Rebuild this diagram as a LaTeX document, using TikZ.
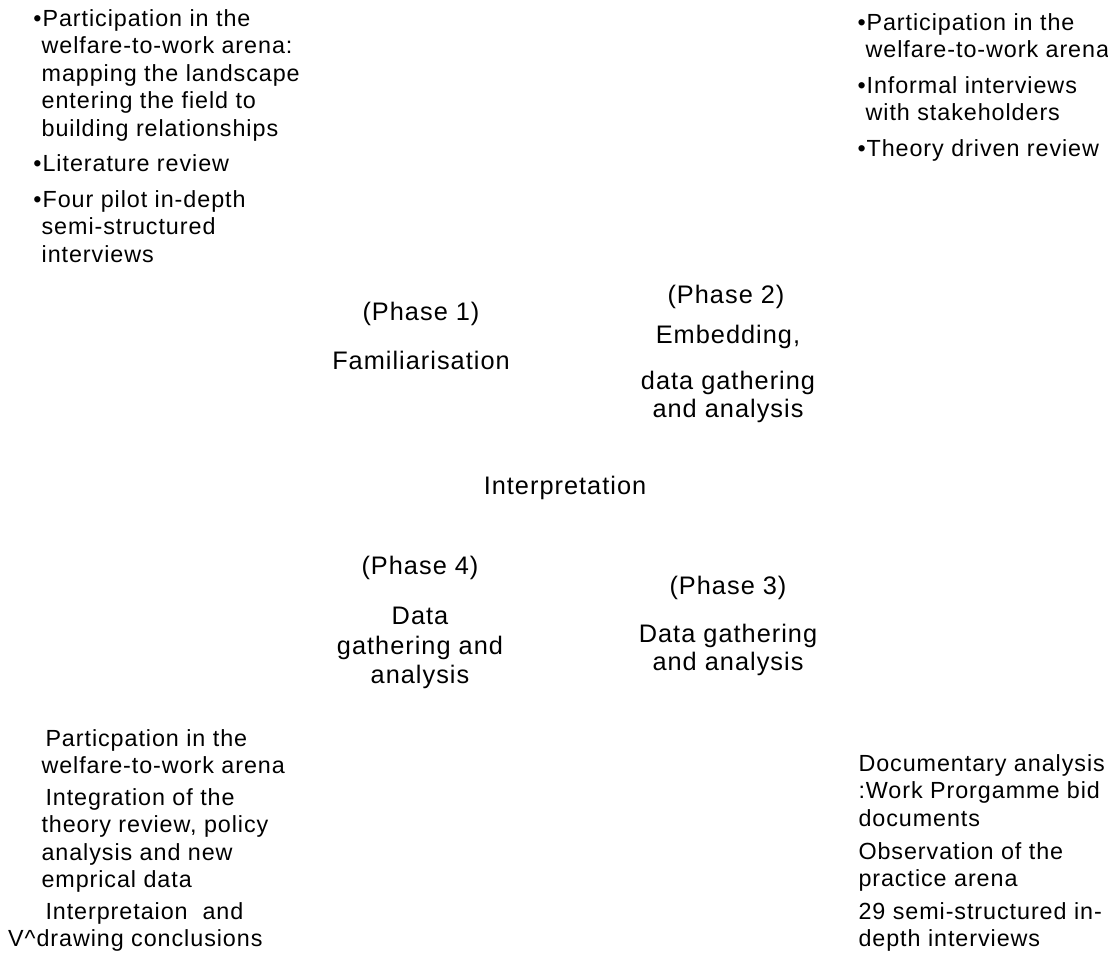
\documentclass[tikz,border=0pt]{standalone}
\usepackage{fontspec}
\setmainfont[LetterSpace=4]{Liberation Sans}

\tikzset{every picture/.style={line width=0.75pt}}
\tikzset{
  sidetext/.style={inner sep=0pt, align=left, font=\fontsize{17.5}{20.6}\selectfont},
  phasetext/.style={inner sep=0pt, align=center, font=\fontsize{19}{20.8}\selectfont}
}

\begin{document}
\begin{tikzpicture}[x=0.75pt,y=0.75pt,yscale=-1,xscale=1]
\useasboundingbox (0,0) rectangle (1108,965);

% Text Node
\node (famnotes) [sidetext, anchor=north west] at (33,9) {\textbullet Participation in the\\\hphantom{\textbullet}welfare-to-work arena:\\\hphantom{\textbullet}mapping the landscape\\\hphantom{\textbullet}entering the field to\\\hphantom{\textbullet}building relationships\\[6pt]\textbullet Literature review\\[6pt]\textbullet Four pilot in-depth\\\hphantom{\textbullet}semi-structured\\\hphantom{\textbullet}interviews};
% Text Node
\node (embnotes) [sidetext, anchor=north west] at (857,13) {\textbullet Participation in the\\\hphantom{\textbullet}welfare-to-work arena\\[6pt]\textbullet Informal interviews\\\hphantom{\textbullet}with stakeholders\\[6pt]\textbullet Theory driven review};
% Text Node
\node (datnotes) [sidetext, anchor=north west] at (858,754) {Documentary analysis\\:Work Prorgamme bid\\documents\\[4pt]Observation of the\\practice arena\\[4pt]29 semi-structured in-\\depth interviews};
% Text Node
\node (intnotes) [sidetext, anchor=north west] at (41,729) {\hspace*{3pt}Particpation in the\\welfare-to-work arena\\[3pt]\hspace*{3pt}Integration of the\\theory review, policy\\analysis and new\\emprical data\\[3pt]\hspace*{3pt}Interpretaion\ \ and\\\hspace*{-25pt}V\textasciicircum drawing conclusions};

% Text Node
\node (ph1) [phasetext] at (421,314) {(Phase 1)};
% Text Node
\node (fam) [phasetext] at (421,360) {Familiarisation};
% Text Node
\node (ph2) [phasetext] at (726,297) {(Phase 2)};
% Text Node
\node (emb) [phasetext] at (728,374) {Embedding,\\[14pt]data gathering\\and analysis};
% Text Node
\node (interp) [phasetext] at (565,488) {Interpretation};
% Text Node
\node (ph4) [phasetext] at (420,568) {(Phase 4)};
% Text Node
\node (dat4) [phasetext, align=center, font=\fontsize{19}{22}\selectfont] at (420,648) {Data\\gathering and\\analysis};
% Text Node
\node (ph3) [phasetext] at (728,588) {(Phase 3)};
% Text Node
\node (dat3) [phasetext] at (728,650) {Data gathering\\and analysis};

\end{tikzpicture}
\end{document}
